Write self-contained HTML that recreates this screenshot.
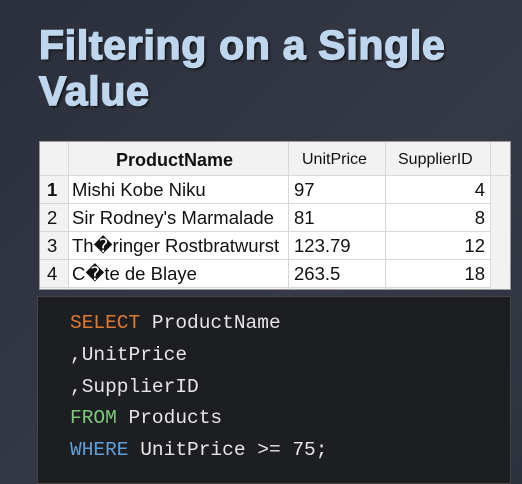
<!DOCTYPE html>
<html><head><meta charset="utf-8"><style>
html,body{margin:0;padding:0}
body{width:522px;height:484px;overflow:hidden;background:linear-gradient(135deg,#2b2f3b,#353a46 60%,#2e323d);position:relative;font-family:"Liberation Sans",sans-serif}
.title{position:absolute;left:39px;top:22px;color:#bfd6ef;font-weight:bold;font-size:41px;line-height:46px;letter-spacing:0.7px;text-shadow:2px 2px 2px #111;-webkit-text-stroke:1.5px #bfd6ef}
.tbl{position:absolute;left:39px;top:141px;width:472px;height:149px;background:#f2f2f2;border:1px solid #999;box-sizing:border-box}
.c{position:absolute;font-size:18.5px;color:#111;white-space:nowrap}
.hl{position:absolute;background:#d8d8d8}
.code{position:absolute;left:37px;top:296px;width:474px;height:188px;background:#1d1e22;border:1px solid #444;box-sizing:border-box}
.l{position:absolute;left:32px;font-family:"Liberation Mono",monospace;font-size:19.5px;color:#e6e6e6;white-space:pre}
</style></head><body>
<div class="title">Filtering on a Single<br>Value</div>
<div class="tbl">
 <div style="position:absolute;left:28px;top:33px;width:422px;height:113px;background:#fff"></div>
 <div class="hl" style="left:0;top:33px;width:471px;height:1px"></div>
 <div class="hl" style="left:0;top:61px;width:450px;height:1px"></div>
 <div class="hl" style="left:0;top:89px;width:450px;height:1px"></div>
 <div class="hl" style="left:0;top:117px;width:450px;height:1px"></div>
 <div class="hl" style="left:0;top:145px;width:450px;height:1px"></div>
 <div class="hl" style="left:28px;top:0;width:1px;height:147px"></div>
 <div class="hl" style="left:248px;top:0;width:1px;height:147px"></div>
 <div class="hl" style="left:345px;top:0;width:1px;height:147px"></div>
 <div class="hl" style="left:450px;top:0;width:1px;height:147px"></div>
 <div class="c" style="left:76px;top:8px;font-weight:bold;font-size:18px">ProductName</div>
 <div class="c" style="left:262px;top:9px;font-size:16px">UnitPrice</div>
 <div class="c" style="left:358px;top:9px;font-size:16px">SupplierID</div>
 <div class="c" style="left:7px;top:37px;font-weight:bold">1</div>
 <div class="c" style="left:7px;top:65px">2</div>
 <div class="c" style="left:7px;top:93px">3</div>
 <div class="c" style="left:7px;top:121px">4</div>
 <div class="c" style="left:32px;top:37px">Mishi Kobe Niku</div>
 <div class="c" style="left:32px;top:65px">Sir Rodney's Marmalade</div>
 <div class="c" style="left:32px;top:93px">Th�ringer Rostbratwurst</div>
 <div class="c" style="left:32px;top:121px">C�te de Blaye</div>
 <div class="c" style="left:254px;top:37px">97</div>
 <div class="c" style="left:254px;top:65px">81</div>
 <div class="c" style="left:254px;top:93px">123.79</div>
 <div class="c" style="left:254px;top:121px">263.5</div>
 <div class="c" style="right:25px;top:37px">4</div>
 <div class="c" style="right:25px;top:65px">8</div>
 <div class="c" style="right:25px;top:93px">12</div>
 <div class="c" style="right:25px;top:121px">18</div>
</div>
<div class="code">
 <div class="l" style="top:15px"><span style="color:#e07a2e">SELECT</span> ProductName</div>
 <div class="l" style="top:47px">,UnitPrice</div>
 <div class="l" style="top:79px">,SupplierID</div>
 <div class="l" style="top:110px"><span style="color:#7dc87a">FROM</span> Products</div>
 <div class="l" style="top:142px"><span style="color:#5f9fd8">WHERE</span> UnitPrice &gt;= 75;</div>
</div>
</body></html>
